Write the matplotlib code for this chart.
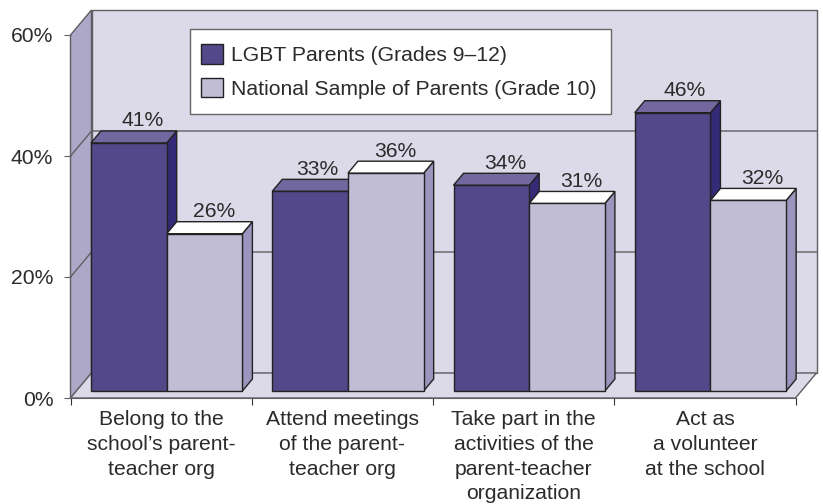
import numpy as np
import matplotlib
matplotlib.use('Agg')
import matplotlib.pyplot as plt
from matplotlib.patches import Polygon, Patch, Rectangle

plt.rcParams['font.family'] = ['Liberation Sans', 'DejaVu Sans']
plt.rcParams['font.size'] = 15.25

categories = ['Belong to the\nschool\u2019s parent-\nteacher org',
              'Attend meetings\nof the parent-\nteacher org',
              'Take part in the\nactivities of the\nparent-teacher\norganization',
              'Act as\na volunteer\nat the school']
lgbt = [41, 33, 34, 46]
national = [26, 36, 31, 31.5]
lgbt_labels = ['41%', '33%', '34%', '46%']
national_labels = ['26%', '36%', '31%', '32%']
yticks = [0, 20, 40, 60]
names = ['LGBT Parents (Grades 9\u201312)', 'National Sample of Parents (Grade 10)']

W, H = 823, 504
x0, x1 = 70.5, 795.5
y0, y60 = 398.0, 35.0

fig = plt.figure(figsize=(W / 100, H / 100), dpi=100)
ax = fig.add_axes([x0 / W, 1 - y0 / H, (x1 - x0) / W, (y0 - y60) / H])
ax.set_xlim(0, 4)
ax.set_ylim(0, 60)

px = 4 / (x1 - x0)          # one pixel in x data units
py = 60 / (y0 - y60)        # one pixel in y data units
wall_dx, wall_dy = 21 * px, 25 * py
bar_dx, bar_dy = 10 * px, 12 * py
bar_w = 75.7 * px
bar_x = 20.5 * px
bar_y = 7 * py

GRID = '#5f5f63'
DARK, DARK_SIDE, DARK_TOP = '#52488a', '#352a78', '#72679e'
LIGHT, LIGHT_SIDE, LIGHT_TOP = '#c2bdd6', '#9c95bd', '#ffffff'
TXT = '#2b2b2b'


def poly(pts, fc, ec=GRID, lw=1.0, z=1):
    ax.add_patch(Polygon(pts, closed=True, fc=fc, ec=ec, lw=lw, zorder=z, clip_on=False))


# walls and floor
poly([(wall_dx, wall_dy), (4 + wall_dx, wall_dy), (4 + wall_dx, 60 + wall_dy), (wall_dx, 60 + wall_dy)], '#dcdae8')
poly([(0, 0), (wall_dx, wall_dy), (wall_dx, 60 + wall_dy), (0, 60)], '#ada8c8')
poly([(0, 0), (4, 0), (4 + wall_dx, wall_dy), (wall_dx, wall_dy)], '#dcdae8')
for v in yticks[1:-1]:
    ax.plot([0, wall_dx, 4 + wall_dx], [v, v + wall_dy, v + wall_dy], color=GRID, lw=1.0, zorder=1.5, clip_on=False)


def draw_bar(left, h, side, top, label, shift, zz):
    b = h + bar_y
    r = left + bar_w
    poly([(r, bar_y), (r + bar_dx, bar_y + bar_dy), (r + bar_dx, b + bar_dy), (r, b)], side, ec='#222222', z=zz)
    poly([(left, b), (r, b), (r + bar_dx, b + bar_dy), (left + bar_dx, b + bar_dy)], top, ec='#222222', z=zz)
    ax.annotate(label, (left + bar_w / 2, b + bar_dy), xytext=(shift * 0.72, 0.5), textcoords='offset points',
                ha='center', va='bottom', color=TXT, zorder=10, annotation_clip=False)


xs = np.arange(4)
ax.bar(xs + bar_x, lgbt, bar_w, bottom=bar_y, align='edge', color=DARK, edgecolor='#222222',
       lw=1.0, zorder=3, clip_on=False)
ax.bar(xs + bar_x + bar_w, national, bar_w, bottom=bar_y, align='edge', color=LIGHT, edgecolor='#222222',
       lw=1.0, zorder=5, clip_on=False)
# label shifts in pixels, the source does not centre them on the bars
a_shift = [14, 7, 14, 12]
b_shift = [10, 9, 14, 14]
for i in xs:
    draw_bar(i + bar_x, lgbt[i], DARK_SIDE, DARK_TOP, lgbt_labels[i], a_shift[i], 2.5)
    draw_bar(i + bar_x + bar_w, national[i], LIGHT_SIDE, LIGHT_TOP, national_labels[i], b_shift[i], 4.5)

for s in ax.spines.values():
    s.set_visible(False)
ax.spines['bottom'].set_visible(True)
ax.spines['bottom'].set_color(GRID)
ax.spines['bottom'].set_zorder(6)

ax.set_yticks(yticks)
ax.set_yticklabels([f'{v}%' for v in yticks], color=TXT)
ax.tick_params(axis='y', length=5.4, width=0.8, color=GRID, pad=7)
ax.set_xticks(range(5))
ax.set_xticklabels([])
ax.tick_params(axis='x', which='major', length=5, width=0.8, color='#333333')
ax.set_xticks(xs + 0.5, minor=True)
ax.set_xticklabels(categories, minor=True, color=TXT, linespacing=1.39, ha='center')
ax.tick_params(axis='x', which='minor', length=0, pad=8.5)

# legend box is drawn on its own, its padding differs in x and y
ax.add_patch(Rectangle(((190 - x0) * px, (y0 - 114) * py), 421 * px, 85 * py, fc='white', ec='#666666',
                       lw=1.0, zorder=8, clip_on=False))
handles = [Patch(fc=DARK, ec='#222222', lw=1.0), Patch(fc=LIGHT, ec='#222222', lw=1.0)]
leg = ax.legend(handles=handles, labels=names, loc='upper left',
                bbox_to_anchor=((201 - x0) * px / 4, (y0 - 44.5) * py / 60),
                frameon=False, fontsize=15.25, handlelength=1.04, handleheight=1.04,
                handletextpad=0.38, labelspacing=0.58, borderpad=0, borderaxespad=0)
leg.set_zorder(9)
for t in leg.get_texts():
    t.set_color(TXT)

fig.savefig('out.png', dpi=100)
